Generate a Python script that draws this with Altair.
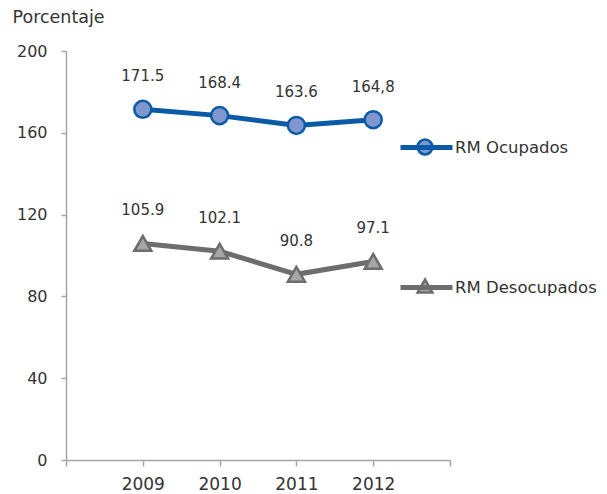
import altair as alt
import pandas as pd

years = [2009, 2010, 2011, 2012]
series = ["RM Ocupados", "RM Desocupados"]
ocupados = [171.5, 168.4, 163.6, 166.4]
ocupados_labels = ["171.5", "168.4", "163.6", "164,8"]
desocupados = [105.9, 102.1, 90.8, 97.1]
desocupados_labels = ["105.9", "102.1", "90.8", "97.1"]
line_colors = ["#0b5aa6", "#6d6d6d"]
fill_colors = ["#7f96cf", "#a6a6a6"]
shapes = ["circle", "triangle-up"]
y_ticks = [0, 40, 80, 120, 160, 200]
x_ticks = [2008, 2009, 2010, 2011, 2012, 2013]

rows = []
for s, vals, labs in [(series[0], ocupados, ocupados_labels),
                      (series[1], desocupados, desocupados_labels)]:
    for y, v, l in zip(years, vals, labs):
        rows.append({"year": y, "value": v, "label": l, "serie": s, "serie2": s})
df = pd.DataFrame(rows)

FONT = "DejaVu Sans"
AX = "#a6a6a6"
TXT = "#333333"

x_enc = alt.X("year:Q",
              scale=alt.Scale(domain=[2008, 2013], nice=False, zero=False),
              axis=alt.Axis(values=x_ticks, format="d",
                            labelExpr="datum.value >= 2009 && datum.value <= 2012 ? datum.label : ''",
                            title=None, grid=False, domainColor=AX, domainWidth=1.5,
                            tickColor=AX, tickWidth=1.5, tickSize=6,
                            labelFontSize=17, labelColor=TXT, labelFont=FONT,
                            labelPadding=10))
y_enc = alt.Y("value:Q",
              scale=alt.Scale(domain=[0, 200], nice=False),
              axis=alt.Axis(values=y_ticks, title="Porcentaje", grid=False,
                            domainColor=AX, domainWidth=1.5, tickColor=AX,
                            tickWidth=1.5, tickSize=5, labelFontSize=16,
                            labelColor=TXT, labelFont=FONT, labelPadding=14,
                            titleAngle=0, titleX=-54, titleY=-34,
                            titleAlign="left", titleBaseline="middle",
                            titleFontWeight="normal", titleFontSize=17.5,
                            titleColor=TXT, titleFont=FONT))

line = alt.Chart(df).mark_line(strokeWidth=5).encode(
    x=x_enc, y=y_enc,
    color=alt.Color("serie:N", scale=alt.Scale(domain=series, range=line_colors),
                    legend=alt.Legend(orient="none", legendX=332, legendY=68,
                                      symbolType="stroke", symbolSize=2704,
                                      symbolStrokeWidth=5, title=None,
                                      labelFontSize=16.5, labelFont=FONT,
                                      labelColor=TXT, labelOffset=0,
                                      rowPadding=101)),
    detail="serie:N",
)

points = alt.Chart(df).mark_point(filled=True, opacity=1, size=290, strokeWidth=2.5).encode(
    x="year:Q", y="value:Q",
    shape=alt.Shape("serie2:N", scale=alt.Scale(domain=series, range=shapes),
                    legend=alt.Legend(orient="none", legendX=350, legendY=87,
                                      symbolSize=220, symbolStrokeWidth=2.5,
                                      title=None, labelFontSize=16.5,
                                      labelFont=FONT, labelExpr="''",
                                      labelOffset=0, rowPadding=114)),
    fill=alt.Fill("serie2:N", scale=alt.Scale(domain=series, range=fill_colors)),
    stroke=alt.Stroke("serie2:N", scale=alt.Scale(domain=series, range=line_colors)),
)

labels = alt.Chart(df).mark_text(dy=-33, fontSize=15, font=FONT, color=TXT).encode(
    x="year:Q", y="value:Q", text="label:N"
)

chart = alt.layer(line, points, labels).resolve_scale(
    color="independent"
).properties(
    width=384, height=409,
    autosize=alt.AutoSizeParams(type="none"),
    padding={"left": 58, "top": 43, "right": 149, "bottom": 36},
).configure_view(stroke=None)

chart.save("out.html", embed_options={"renderer": "svg", "actions": False})
